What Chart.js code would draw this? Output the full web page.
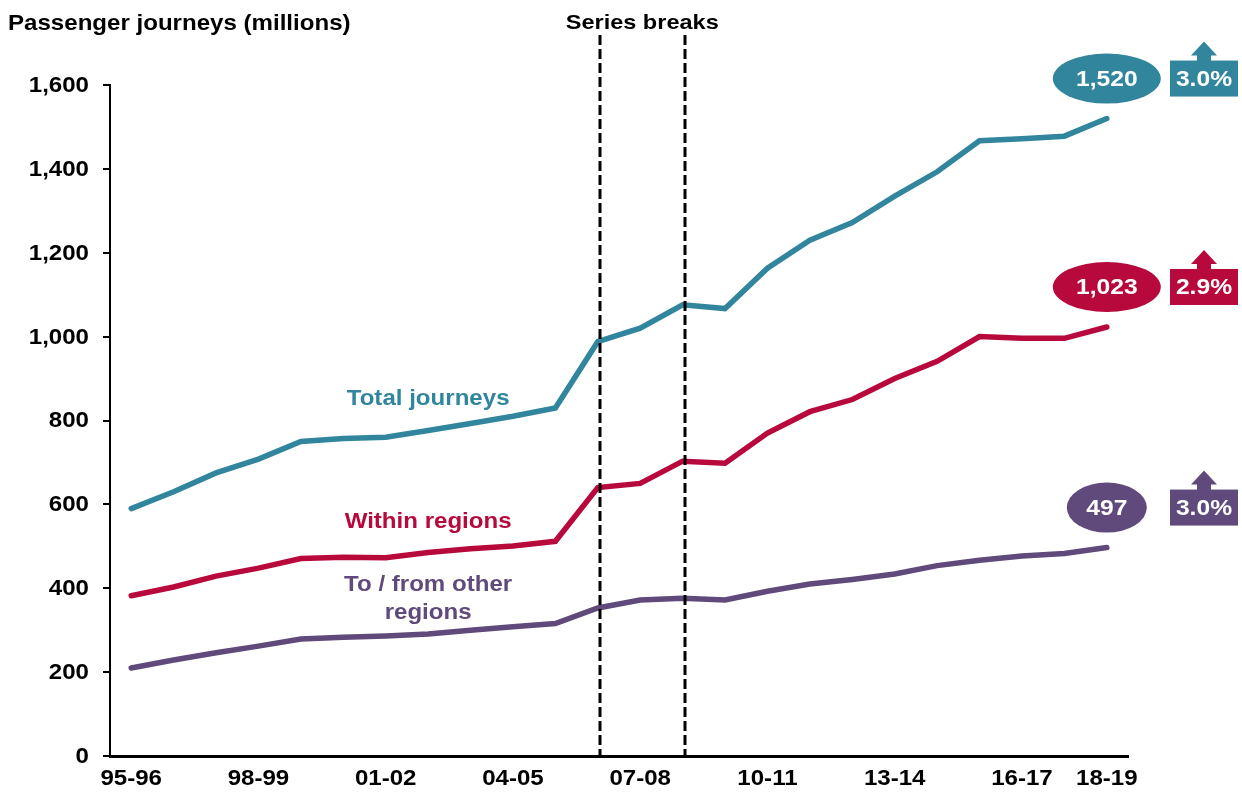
<!DOCTYPE html>
<html>
<head>
<meta charset="utf-8">
<script src="https://cdn.jsdelivr.net/npm/chart.js@4"></script>
<style>
  html, body { margin: 0; padding: 0; background: #fff; }
  #wrap { width: 1242px; height: 796px; position: relative; }
</style>
</head>
<body>
<div id="wrap"><canvas id="graphique"></canvas></div>
<script>
// Données (millions de voyages)
const seasons = ['95-96','96-97','97-98','98-99','99-00','00-01','01-02','02-03','03-04','04-05','05-06','06-07',
  '07-08','08-09','09-10','10-11','11-12','12-13','13-14','14-15','15-16','16-17','17-18','18-19'];
const totalJourneys = [590, 630, 675, 708, 750, 757, 760, 776, 793, 810, 830, 988,
  1020, 1076, 1067, 1163, 1230, 1272, 1335, 1393, 1467, 1472, 1478, 1520];
const withinRegions = [382, 403, 429, 448, 471, 474, 473, 485, 494, 501, 512, 640,
  650, 703, 698, 770, 821, 850, 900, 941, 1000, 996, 996, 1023];
const otherRegions = [210, 229, 246, 262, 279, 283, 286, 291, 300, 308, 316, 353,
  372, 376, 372, 393, 410, 421, 434, 454, 467, 477, 483, 497];
const shownTicks = ['95-96','98-99','01-02','04-05','07-08','10-11','13-14','16-17','18-19'];
const yTicks = [0, 200, 400, 600, 800, 1000, 1200, 1400, 1600];
const seriesBreaks = ['06-07','08-09'];
const growthRates = ['3.0%', '2.9%', '3.0%'];

const TEAL = '#31859C';
const RED = '#B8093D';
const PURPLE = '#5F4A7B';
const FONT = '"Liberation Sans", Arial, sans-serif';
const SX = 1.12; // le texte de l'original est un peu élargi

// Helper : texte étiré horizontalement
function stretchText(ctx, text, x, y, sx) {
  ctx.save();
  ctx.translate(x, y);
  ctx.scale(sx, 1);
  ctx.fillText(text, 0, 0);
  ctx.restore();
}

// Lignes pointillées + annotations
const annotations = {
  id: 'annotations',
  afterDatasetsDraw(chart) {
    const { ctx, scales: { x, y } } = chart;
    ctx.save();
    ctx.strokeStyle = '#000';
    ctx.lineWidth = 3;
    ctx.setLineDash([10, 4]);
    seriesBreaks.forEach(s => {
      const px = Math.round(x.getPixelForValue(seasons.indexOf(s))) + 2;
      ctx.beginPath();
      ctx.moveTo(px, 35);
      ctx.lineTo(px, y.getPixelForValue(0));
      ctx.stroke();
    });
    ctx.restore();
  },
  afterDraw(chart) {
    const { ctx, scales: { x, y } } = chart;
    ctx.save();
    ctx.textBaseline = 'middle';
    ctx.fillStyle = '#000';

    // étiquettes des axes (dessinées ici pour pouvoir les élargir)
    ctx.font = 'bold 21.5px ' + FONT;
    ctx.textAlign = 'right';
    yTicks.forEach(v => stretchText(ctx, v.toLocaleString('en-US'), 89, y.getPixelForValue(v) + 1, SX));
    ctx.textAlign = 'center';
    shownTicks.forEach(s => stretchText(ctx, s, x.getPixelForValue(seasons.indexOf(s)), y.bottom + 23, SX));

    // titres
    ctx.font = 'bold 21.5px ' + FONT;
    ctx.textAlign = 'left';
    stretchText(ctx, 'Passenger journeys (millions)', 8, 24, SX);
    ctx.textAlign = 'center';
    ctx.font = 'bold 21px ' + FONT;
    const midBreak = (x.getPixelForValue(seasons.indexOf(seriesBreaks[0])) + x.getPixelForValue(seasons.indexOf(seriesBreaks[1]))) / 2;
    stretchText(ctx, 'Series breaks', midBreak + 2, 23, SX);

    // noms des séries
    const lx = x.getPixelForValue(7);
    ctx.font = 'bold 21.5px ' + FONT;
    ctx.fillStyle = TEAL;
    stretchText(ctx, 'Total journeys', lx, y.getPixelForValue(852), SX);
    ctx.fillStyle = RED;
    stretchText(ctx, 'Within regions', lx, y.getPixelForValue(558), SX);
    ctx.fillStyle = PURPLE;
    stretchText(ctx, 'To / from other', lx, y.getPixelForValue(408), SX);
    stretchText(ctx, 'regions', lx, y.getPixelForValue(341), SX);

    // ellipses + boîtes de croissance
    const last = seasons.length - 1;
    const series = [[totalJourneys, TEAL, 54], [withinRegions, RED, 54], [otherRegions, PURPLE, 40]];
    series.forEach(([data, col, rx], i) => {
      const ex = x.getPixelForValue(last);
      const ey = y.getPixelForValue(data[last]) - 40;
      ctx.fillStyle = col;
      ctx.beginPath();
      ctx.ellipse(ex, ey, rx, 25, 0, 0, Math.PI * 2);
      ctx.fill();
      ctx.fillStyle = '#fff';
      ctx.font = 'bold 22px ' + FONT;
      stretchText(ctx, data[last].toLocaleString('en-US'), ex, ey + 1, SX);

      const bx = 1170, bw = 68, by = ey - 18, bh = 36, cx = bx + bw / 2;
      ctx.fillStyle = col;
      ctx.fillRect(bx, by, bw, bh);
      ctx.fillRect(cx - 7, by - 6, 14, 7);
      ctx.beginPath();
      ctx.moveTo(cx - 13, by - 5);
      ctx.lineTo(cx + 13, by - 5);
      ctx.lineTo(cx, by - 19);
      ctx.closePath();
      ctx.fill();
      ctx.fillStyle = '#fff';
      stretchText(ctx, growthRates[i], cx, ey + 1, SX);
    });
    ctx.restore();
  }
};

const ctx = document.getElementById('graphique').getContext('2d');

function ligne(label, data, color) {
  return {
    label: label,
    data: data,
    borderColor: color,
    backgroundColor: color,
    borderWidth: 5.5,
    pointRadius: 0,
    tension: 0,
    borderCapStyle: 'round',
    borderJoinStyle: 'miter'
  };
}

const chart = new Chart(ctx, {
  type: 'line',
  data: {
    labels: seasons,
    datasets: [
      ligne('Total journeys', totalJourneys, TEAL),
      ligne('Within regions', withinRegions, RED),
      ligne('To / from other regions', otherRegions, PURPLE)
    ]
  },
  options: {
    responsive: true,
    maintainAspectRatio: false,
    animation: false,
    layout: { padding: { left: 0, right: 114, top: 85, bottom: 0 } },
    plugins: { legend: { display: false }, tooltip: { enabled: false } },
    scales: {
      x: {
        offset: true,
        afterFit: (s) => { s.height = 40; },
        grid: { display: false },
        border: { color: '#000', width: 3 },
        ticks: {
          autoSkip: false,
          maxRotation: 0,
          color: 'rgba(0,0,0,0)',
          font: { family: FONT, size: 20, weight: 'bold' },
          callback: (v, i) => shownTicks.includes(seasons[i]) ? seasons[i] : ''
        }
      },
      y: {
        min: 0,
        max: yTicks[yTicks.length - 1],
        afterFit: (s) => { s.width = 110; },
        afterBuildTicks: (s) => { s.ticks = yTicks.map(v => ({ value: v })); },
        grid: { drawOnChartArea: false, drawTicks: true, tickLength: 7, color: '#000', lineWidth: 2 },
        border: { color: '#000', width: 2 },
        ticks: {
          padding: 12,
          color: 'rgba(0,0,0,0)',
          font: { family: FONT, size: 20, weight: 'bold' },
          callback: (v) => v.toLocaleString('en-US')
        }
      }
    }
  },
  plugins: [annotations]
});
</script>
</body>
</html>
